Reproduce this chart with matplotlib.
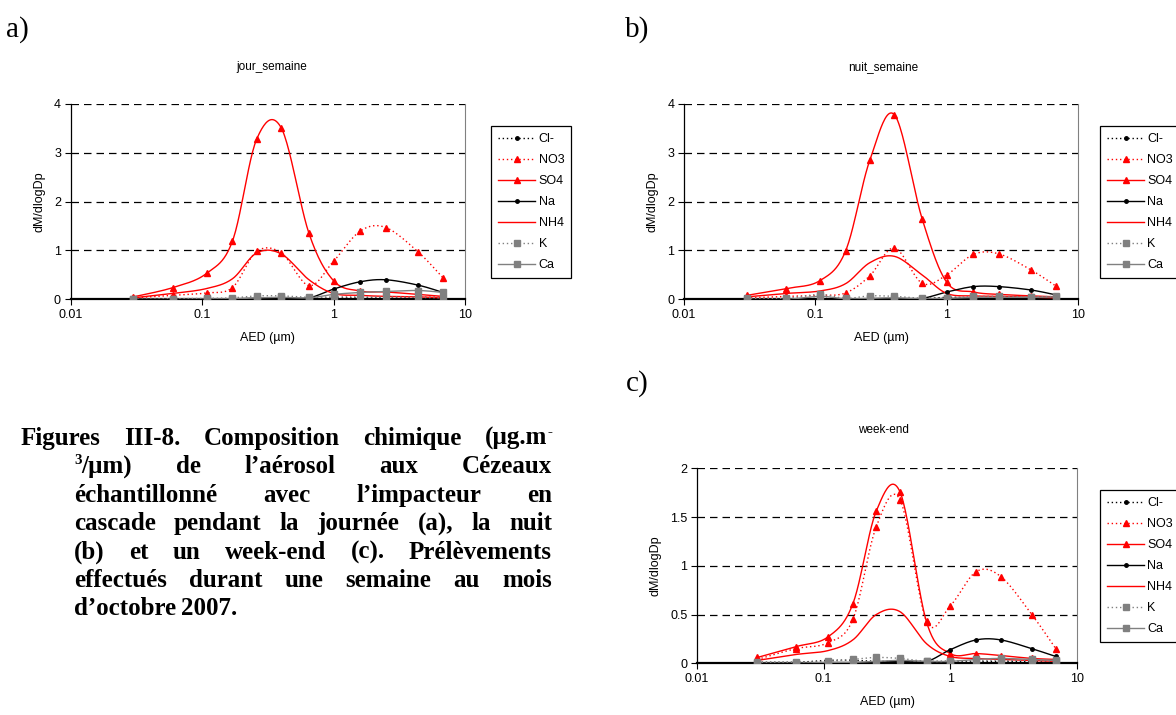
import numpy as np
import matplotlib
matplotlib.use("Agg")
from matplotlib import pyplot as plt
from matplotlib.lines import Line2D

plt.rcParams['font.family'] = ['Liberation Sans', 'DejaVu Sans']

# particle diameter of the cascade impactor stages (AED, um)
aed = [0.03, 0.06, 0.108, 0.17, 0.26, 0.40, 0.65, 1.0, 1.6, 2.5, 4.4, 6.8]

# a) jour_semaine
cl_a = [0.01, 0.01, 0.01, 0.01, 0.02, 0.02, 0.02, 0.03, 0.03, 0.03, 0.04, 0.04]
no3_a = [0.03, 0.08, 0.13, 0.24, 0.98, 0.95, 0.28, 0.78, 1.40, 1.47, 0.97, 0.44]
so4_a = [0.05, 0.24, 0.53, 1.19, 3.28, 3.51, 1.35, 0.38, 0.17, 0.15, 0.10, 0.06]
na_a = [0.0, 0.0, 0.0, 0.01, 0.02, 0.02, 0.03, 0.21, 0.36, 0.40, 0.29, 0.14]
nh4_a = [0.03, 0.12, 0.22, 0.42, 0.95, 0.93, 0.40, 0.12, 0.08, 0.06, 0.05, 0.03]
k_a = [0.0, 0.01, 0.02, 0.03, 0.07, 0.07, 0.04, 0.05, 0.05, 0.05, 0.04, 0.03]
ca_a = [0.0, 0.0, 0.01, 0.01, 0.03, 0.04, 0.03, 0.10, 0.14, 0.16, 0.18, 0.14]

# b) nuit_semaine
cl_b = [0.01, 0.01, 0.02, 0.01, 0.01, 0.01, 0.01, 0.04, 0.03, 0.02, 0.02, 0.02]
no3_b = [0.03, 0.06, 0.08, 0.13, 0.48, 1.05, 0.33, 0.50, 0.92, 0.93, 0.60, 0.27]
so4_b = [0.08, 0.22, 0.38, 0.99, 2.85, 3.78, 1.65, 0.35, 0.15, 0.10, 0.07, 0.05]
na_b = [0.0, 0.0, 0.0, 0.0, 0.01, 0.01, 0.02, 0.15, 0.26, 0.26, 0.19, 0.09]
nh4_b = [0.05, 0.12, 0.17, 0.32, 0.75, 0.88, 0.50, 0.12, 0.07, 0.06, 0.04, 0.03]
k_b = [0.02, 0.02, 0.10, 0.02, 0.07, 0.06, 0.02, 0.03, 0.06, 0.06, 0.05, 0.06]
ca_b = [0.0, 0.0, 0.06, 0.01, 0.02, 0.03, 0.01, 0.02, 0.04, 0.04, 0.04, 0.05]

# c) week-end
cl_c = [0.01, 0.01, 0.03, 0.03, 0.02, 0.02, 0.02, 0.02, 0.02, 0.02, 0.02, 0.02]
no3_c = [0.04, 0.15, 0.21, 0.45, 1.40, 1.68, 0.43, 0.59, 0.94, 0.89, 0.50, 0.15]
so4_c = [0.06, 0.17, 0.27, 0.61, 1.56, 1.76, 0.42, 0.10, 0.10, 0.08, 0.05, 0.04]
na_c = [0.0, 0.0, 0.0, 0.0, 0.01, 0.02, 0.02, 0.14, 0.24, 0.24, 0.15, 0.07]
nh4_c = [0.03, 0.09, 0.13, 0.24, 0.50, 0.53, 0.20, 0.07, 0.05, 0.04, 0.03, 0.02]
k_c = [0.01, 0.01, 0.02, 0.04, 0.06, 0.05, 0.02, 0.02, 0.03, 0.03, 0.03, 0.02]
ca_c = [0.0, 0.0, 0.01, 0.01, 0.02, 0.03, 0.02, 0.02, 0.04, 0.05, 0.04, 0.03]

labels = ['Cl-', 'NO3', 'SO4', 'Na', 'NH4', 'K', 'Ca']
DOT = (0, (1, 2))
GRAY = '#808080'
# (color, linestyle, marker, markersize)
styles = [
    ('black', DOT, 'o', 2.5),
    ('red', DOT, '^', 4),
    ('red', '-', '^', 4),
    ('black', '-', 'o', 2.5),
    ('red', '-', None, 0),
    (GRAY, DOT, 's', 5),
    (GRAY, '-', 's', 5),
]

W, H = 1176, 715


def smooth(x, y, n=24):
    # Excel-like smoothed line: Catmull-Rom through the points in (log x, y)
    P = np.column_stack([np.log10(x), y])
    out = []
    for i in range(len(P) - 1):
        p0 = P[max(i - 1, 0)]
        p1, p2 = P[i], P[i + 1]
        p3 = P[min(i + 2, len(P) - 1)]
        t = np.linspace(0, 1, n, endpoint=False)[:, None]
        out.append(0.5 * (2 * p1 + (p2 - p0) * t
                          + (2 * p0 - 5 * p1 + 4 * p2 - p3) * t ** 2
                          + (3 * p1 - p0 - 3 * p2 + p3) * t ** 3))
    out.append(P[-1:])
    out = np.vstack(out)
    return 10 ** out[:, 0], out[:, 1]


def px_axes(l, r, t, b):
    return fig.add_axes([l / W, 1 - b / H, (r - l) / W, (b - t) / H])


def panel(ax, series, ymax, ystep, title, tpos, leg_pos):
    for y, (c, ls, m, ms) in zip(series, styles):
        sx, sy = smooth(aed, y)
        ax.plot(sx, sy, color=c, ls=ls, lw=1.0, zorder=3)
        if m:
            ax.plot(aed, y, ls='none', marker=m, ms=ms, color=c,
                    mec=c, zorder=4)
    ax.set_xscale('log')
    ax.set_xlim(0.01, 10)
    ax.set_ylim(0, ymax)
    ax.set_xticks([0.01, 0.1, 1, 10])
    ax.set_xticklabels(['0.01', '0.1', '1', '10'])
    ax.xaxis.set_minor_locator(matplotlib.ticker.NullLocator())
    yt = np.arange(0, ymax + ystep / 2, ystep)
    ax.set_yticks(yt)
    ax.set_yticklabels(['%g' % v for v in yt])
    for v in yt[1:]:
        ax.axhline(v, color='black', lw=0.9, ls=(0, (6, 4)), zorder=1)
    ax.tick_params(labelsize=9, length=4, width=0.8, direction='out', pad=3,
                   colors='black')
    ax.spines['top'].set_visible(False)
    ax.spines['right'].set_color(GRAY)
    ax.spines['right'].set_linewidth(0.8)
    ax.spines['left'].set_linewidth(0.9)
    ax.spines['bottom'].set_linewidth(1.6)
    ax.set_ylabel('dM/dlogDp', fontsize=9, labelpad=6)
    ax.set_xlabel('AED (µm)', fontsize=9, labelpad=8)
    fig.text(tpos[0] / W, 1 - tpos[1] / H, title, fontsize=8.5,
             ha='center', va='center')
    handles = [Line2D([], [], color=c, ls=ls, lw=1.0, marker=m,
                      ms=ms + (1 if m == '^' else 0), mec=c)
               for c, ls, m, ms in styles]
    leg = ax.legend(handles, labels, loc='upper left',
                    bbox_to_anchor=(leg_pos[0] / W, 1 - leg_pos[1] / H),
                    bbox_transform=fig.transFigure, fontsize=9,
                    handlelength=3.0, handletextpad=0.25, labelspacing=0.72,
                    borderpad=0.55, borderaxespad=0, fancybox=False,
                    edgecolor='black', framealpha=1)
    leg.get_frame().set_linewidth(0.9)


fig = plt.figure(figsize=(W / 100, H / 100), dpi=100)

ax_a = px_axes(70.7, 465, 104, 299.3)
panel(ax_a, [cl_a, no3_a, so4_a, na_a, nh4_a, k_a, ca_a], 4, 1,
      'jour_semaine', (272, 67), (491, 126))
ax_b = px_axes(684, 1078, 104, 299.3)
panel(ax_b, [cl_b, no3_b, so4_b, na_b, nh4_b, k_b, ca_b], 4, 1,
      'nuit_semaine', (883, 67), (1100, 126))
ax_c = px_axes(697, 1077, 468.3, 663.3)
panel(ax_c, [cl_c, no3_c, so4_c, na_c, nh4_c, k_c, ca_c], 2, 0.5,
      'week-end', (883, 430), (1100, 490))

serif = dict(family='Liberation Serif', fontsize=21, va='center')
fig.text(17 / W, 1 - 30 / H, 'a)', ha='center', **serif)
fig.text(637 / W, 1 - 30 / H, 'b)', ha='center', **serif)
fig.text(637 / W, 1 - 384 / H, 'c)', ha='center', **serif)

# justified bold caption; "^x" marks a superscript piece of a word
caption = [
    (21, 'Figures III-8. Composition chimique (µg.m^-'),
    (74, '^3/µm) de l’aérosol aux Cézeaux'),
    (74, 'échantillonné avec l’impacteur en'),
    (74, 'cascade pendant la journée (a), la nuit'),
    (74, '(b) et un week-end (c). Prélèvements'),
    (74, 'effectués durant une semaine au mois'),
    (74, 'd’octobre 2007.'),
]
FS = 18
cap_kw = dict(family='Liberation Serif', weight='bold', va='baseline')
renderer = fig.canvas.get_renderer()


def word_parts(word, y):
    # split a word into normal / superscript pieces, return texts and width
    pieces = []
    rest = word
    while rest:
        if rest.startswith('^'):
            pieces.append((rest[1], True))
            rest = rest[2:]
        else:
            k = rest.find('^')
            k = len(rest) if k < 0 else k
            pieces.append((rest[:k], False))
            rest = rest[k:]
    items = []
    for s, sup in pieces:
        t = fig.text(0, y + (9 / H if sup else 0), s,
                     fontsize=FS * (0.6 if sup else 1), **cap_kw)
        items.append((t, t.get_window_extent(renderer).width))
    return items


x_right = 552
for i, (x0, line) in enumerate(caption):
    y = 1 - (445 + i * 28.4) / H
    words = [word_parts(w, y) for w in line.split(' ')]
    widths = [sum(w for _, w in parts) for parts in words]
    if i < len(caption) - 1:
        gap = (x_right - x0 - sum(widths)) / (len(words) - 1)
    else:
        gap = 5
    x = x0
    for parts, ww in zip(words, widths):
        xx = x
        for t, w in parts:
            t.set_x(xx / W)
            xx += w
        x += ww + gap

fig.savefig('out.png', dpi=100)
